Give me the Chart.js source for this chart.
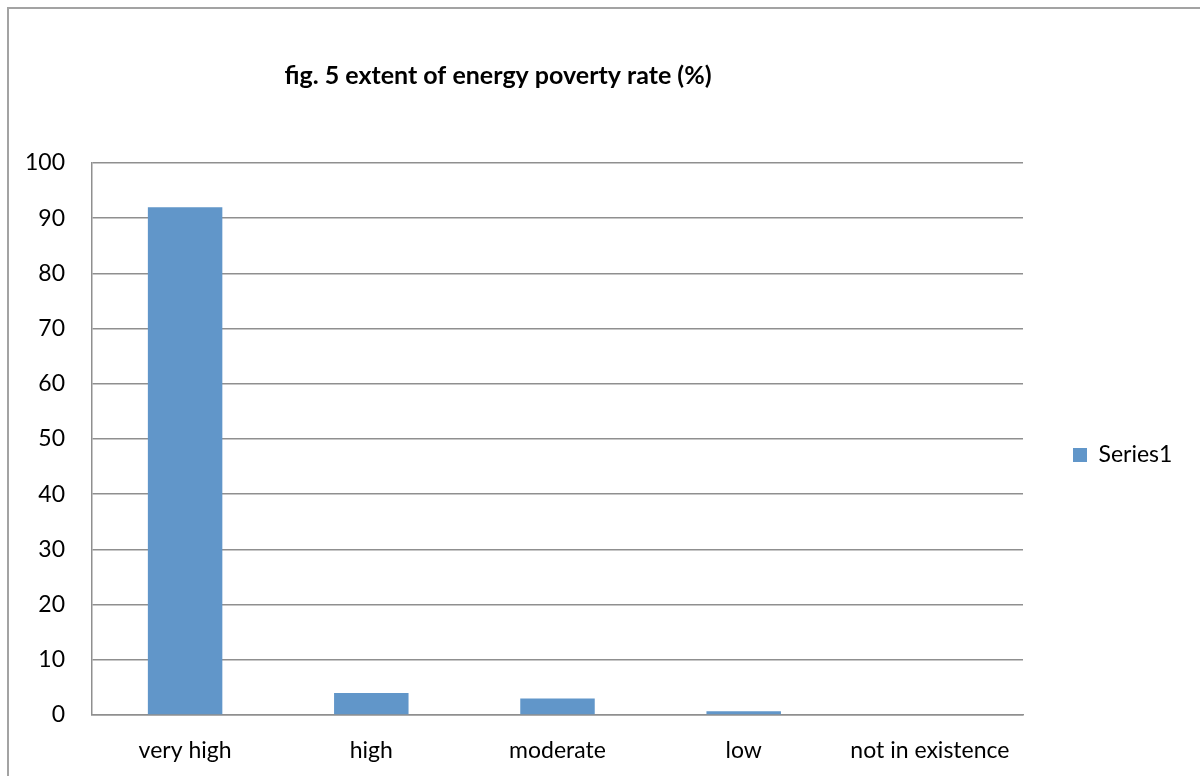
<!DOCTYPE html>
<html>
<head>
<meta charset="utf-8">
<script src="https://cdn.jsdelivr.net/npm/chart.js@4/dist/chart.umd.min.js"></script>
<style>
  html, body { margin: 0; padding: 0; background: #ffffff; overflow: hidden; }
  #frame { position: absolute; left: 7px; top: 7px; width: 1300px; height: 900px;
           border-left: 2px solid #a3a3a3; border-top: 2px solid #a3a3a3; box-sizing: border-box; pointer-events: none; }
  #wrap { position: absolute; left: 0; top: 0; width: 1200px; height: 776px; }
</style>
</head>
<body>
<div id="wrap"><canvas id="c" width="1200" height="776"></canvas></div>
<div id="frame"></div>
<script>
const chartTitle = "fig. 5 extent of energy poverty rate (%)";
const categories = ["very high", "high", "moderate", "low", "not in existence"];
const seriesName = "Series1";
const seriesValues = [92, 4, 3, 0.7, 0];
const yMin = 0, yMax = 100, yStep = 10;

const FONT = "Lato, 'Open Sans', sans-serif";
const GRID = "#8f8f8f";
const BAR = "#6196c9";

const titlePlugin = {
  id: 'fixedTitle',
  afterDraw(chart) {
    const ctx = chart.ctx;
    ctx.save();
    ctx.font = "bold 25px " + FONT;
    ctx.fillStyle = "#000";
    ctx.textAlign = "center";
    ctx.textBaseline = "middle";
    ctx.fillText(chartTitle, 498, 76);
    ctx.restore();
  }
};

const legendBoxPlugin = {
  id: 'legendBox',
  beforeLayout(chart) {
    const lg = chart.legend;
    if (lg && !lg._fixedW) {
      const orig = lg.fit.bind(lg);
      lg.fit = function () { orig(); this.width = 177; };
      lg._fixedW = true;
    }
  },
  afterLayout(chart) {
    const lg = chart.legend;
    if (lg) { lg.top = 134; lg.bottom = 776; lg.height = 642; }
  }
};

new Chart(document.getElementById('c'), {
  type: 'bar',
  data: {
    labels: categories,
    datasets: [{
      label: seriesName,
      data: seriesValues,
      backgroundColor: BAR,
      borderWidth: 0,
      barPercentage: 0.4,
      categoryPercentage: 1.0
    }]
  },
  options: {
    responsive: false,
    animation: false,
    layout: { padding: { left: 0, top: 163, right: 0, bottom: 0 } },
    plugins: {
      title: { display: false },
      tooltip: { enabled: false },
      legend: {
        display: true,
        position: 'right',
        align: 'center',
        labels: {
          boxWidth: 14,
          boxHeight: 14,
          padding: 50,
          color: '#000',
          font: { family: FONT, size: 23 }
        }
      }
    },
    scales: {
      x: {
        grid: { display: false, drawTicks: false },
        border: { display: true, color: GRID, width: 1.5 },
        ticks: { color: '#000', padding: 22, font: { family: FONT, size: 23 }, maxRotation: 0, autoSkip: false },
        afterFit(scale) { scale.height = 61; }
      },
      y: {
        min: yMin, max: yMax,
        grid: { color: GRID, lineWidth: 1.5, drawTicks: false },
        border: { display: true, color: GRID, width: 1.5 },
        ticks: { stepSize: yStep, color: '#000', padding: 27, font: { family: FONT, size: 23 } },
        afterFit(scale) { scale.width = 92; }
      }
    }
  },
  plugins: [titlePlugin, legendBoxPlugin]
});
</script>
</body>
</html>
